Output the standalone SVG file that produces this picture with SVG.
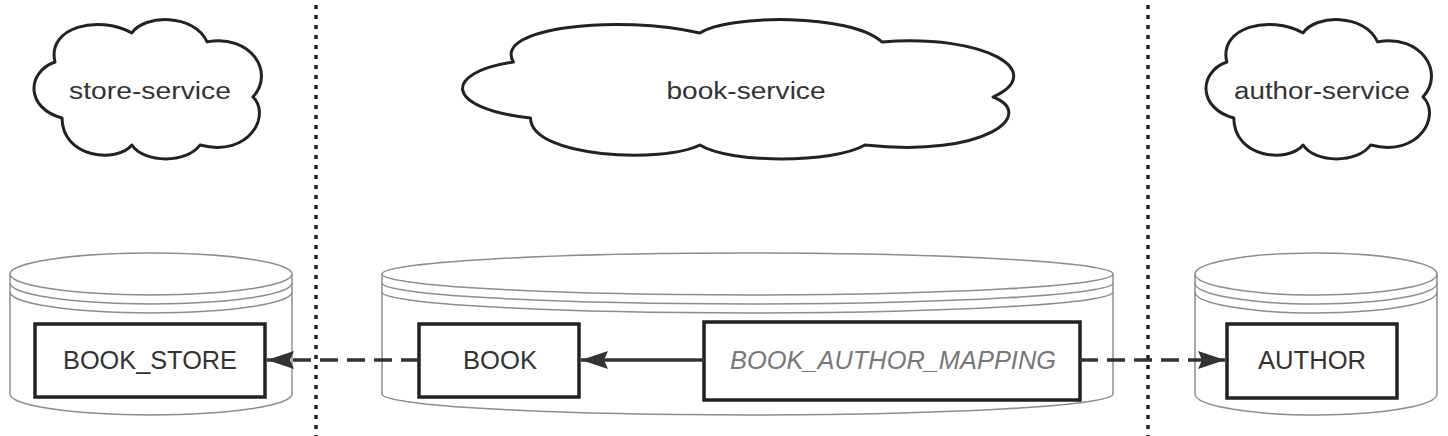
<svg xmlns="http://www.w3.org/2000/svg" width="1448" height="436" viewBox="0 0 1448 436">
<style>
.cloud{fill:#fff;stroke:#222;stroke-width:3;stroke-linejoin:round}
.cyl{fill:#fff;stroke:#8a8d91;stroke-width:1.5}
.box{fill:#fff;stroke:#222;stroke-width:3.5}
.lbl{font-family:"Liberation Sans",Arial,Helvetica,sans-serif;fill:#333;text-anchor:middle}
.svc{font-size:23px}
.tbl{font-size:25px}
.ital{font-style:italic;fill:#777}
.sep{stroke:#222;stroke-width:3.5;stroke-dasharray:4 6;fill:none}
.dash{stroke:#333;stroke-width:3.5;stroke-dasharray:18 9;fill:none}
.solid{stroke:#333;stroke-width:3.5;fill:none}
</style>
<defs>
<marker id="arr" markerUnits="userSpaceOnUse" markerWidth="28" markerHeight="20" viewBox="0 0 28 20" refX="27" refY="10" orient="auto">
<path d="M0,1 L27,10 L0,19 L4,10 Z" fill="#333"/>
</marker>
</defs>
<rect width="1448" height="436" fill="#fff"/>

<g id="separators">
<line class="sep" x1="316" y1="5" x2="316" y2="436"/>
<line class="sep" x1="1148" y1="5" x2="1148" y2="436"/>
</g>

<g id="store-service">
<path class="cloud" d="M55,62 C46.4,26.9 98.6,14.5 131.9,33 C144,14.5 193.9,13.1 207.1,41.9 C250.7,33.8 275.6,72.4 252.9,97 C271.1,113.8 250.7,158 200,145 C187.1,163.5 144,163.5 131.9,145 C116.7,163.5 62.2,158 62,118 C25.9,108.3 25.9,72.4 55,62 Z"/>
<text class="lbl svc" x="150" y="99" textLength="162" lengthAdjust="spacingAndGlyphs">store-service</text>
</g>
<g id="book-service">
<path class="cloud" d="M513.4,62 C492.5,26.9 619,14.5 699.9,33 C729,14.5 850,13.1 881.9,41.9 C987.5,33.8 1048,72.4 993,97 C1037,113.8 987.5,158 864.9,145 C833.5,163.5 729,163.5 699.9,145 C663,163.5 531,158 530.5,118 C443,108.3 443,72.4 513.4,62 Z"/>
<text class="lbl svc" x="746" y="99" textLength="159" lengthAdjust="spacingAndGlyphs">book-service</text>
</g>
<g id="author-service">
<path class="cloud" d="M1226.8,62 C1218.3,26.9 1270,14.5 1303.1,33 C1315,14.5 1364.5,13.1 1377.6,41.9 C1420.8,33.8 1445.5,72.4 1423,97 C1441,113.8 1420.8,158 1370.6,145 C1357.8,163.5 1315,163.5 1303.1,145 C1288,163.5 1234,158 1233.8,118 C1198,108.3 1198,72.4 1226.8,62 Z"/>
<text class="lbl svc" x="1322" y="99" textLength="176" lengthAdjust="spacingAndGlyphs">author-service</text>
</g>

<g id="store-db">
<path class="cyl" d="M10,274 A141,21 0 0 1 292,274 L292,394 A141,21 0 0 1 10,394 Z"/>
<path class="cyl" fill="none" d="M10,274 A141,21 0 0 0 292,274 M10,283 A141,21 0 0 0 292,283 M10,292 A141,21 0 0 0 292,292"/>
</g>
<g id="book-db">
<path class="cyl" d="M382,274 A365.5,21 0 0 1 1113,274 L1113,394 A365.5,21 0 0 1 382,394 Z"/>
<path class="cyl" fill="none" d="M382,274 A365.5,21 0 0 0 1113,274 M382,283 A365.5,21 0 0 0 1113,283 M382,292 A365.5,21 0 0 0 1113,292"/>
</g>
<g id="author-db">
<path class="cyl" d="M1195,274 A121,21 0 0 1 1437,274 L1437,394 A121,21 0 0 1 1195,394 Z"/>
<path class="cyl" fill="none" d="M1195,274 A121,21 0 0 0 1437,274 M1195,283 A121,21 0 0 0 1437,283 M1195,292 A121,21 0 0 0 1437,292"/>
</g>

<g id="BOOK_STORE">
<rect class="box" x="35" y="324" width="230" height="73"/>
<text class="lbl tbl" x="150" y="369" textLength="174" lengthAdjust="spacingAndGlyphs">BOOK_STORE</text>
</g>
<g id="BOOK">
<rect class="box" x="419" y="324" width="160" height="73"/>
<text class="lbl tbl" x="500" y="369" textLength="74" lengthAdjust="spacingAndGlyphs">BOOK</text>
</g>
<g id="BOOK_AUTHOR_MAPPING">
<rect class="box" x="704" y="322" width="376" height="78"/>
<text class="lbl tbl ital" x="893" y="369" textLength="326" lengthAdjust="spacingAndGlyphs">BOOK_AUTHOR_MAPPING</text>
</g>
<g id="AUTHOR">
<rect class="box" x="1227" y="324" width="170" height="74"/>
<text class="lbl tbl" x="1312" y="369" textLength="108" lengthAdjust="spacingAndGlyphs">AUTHOR</text>
</g>

<g id="connectors">
<line class="dash" x1="419" y1="360" x2="267" y2="360" marker-end="url(#arr)"/>
<line class="solid" x1="704" y1="360" x2="581" y2="360" marker-end="url(#arr)"/>
<line class="dash" x1="1080" y1="360" x2="1225" y2="360" marker-end="url(#arr)"/>
</g>
</svg>
